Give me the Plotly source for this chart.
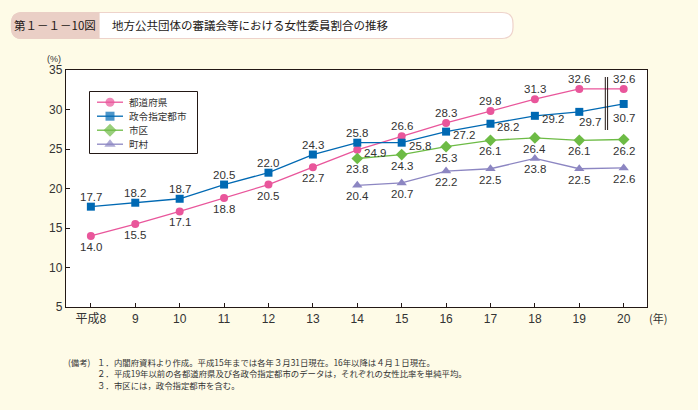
import plotly.graph_objects as go

# ---------------- data ----------------
years = [8, 9, 10, 11, 12, 13, 14, 15, 16, 17, 18, 19, 20]
year_labels = ["平成8", "9", "10", "11", "12", "13", "14", "15", "16", "17", "18", "19", "20"]
years_city = [14, 15, 16, 17, 18, 19, 20]

pref_vals = [14.0, 15.5, 17.1, 18.8, 20.5, 22.7, 24.9, 26.6, 28.3, 29.8, 31.3, 32.6, 32.6]
desig_vals = [17.7, 18.2, 18.7, 20.5, 22.0, 24.3, 25.8, 25.8, 27.2, 28.2, 29.2, 29.7, 30.7]
city_vals = [23.8, 24.3, 25.3, 26.1, 26.4, 26.1, 26.2]
town_vals = [20.4, 20.7, 22.2, 22.5, 23.8, 22.5, 22.6]

series_names = ["都道府県", "政令指定都市", "市区", "町村"]

# ---------------- styles ----------------
colors = ["#E9569B", "#0069B3", "#6DBB45", "#8C86C2"]
symbols = ["circle", "square", "diamond", "triangle-up"]
msizes = [8, 8, 9, 9]

# label placement codes (style, not data)
pref_pos = ["b"] * 6 + ["r"] + ["t"] * 6
desig_pos = ["t"] * 7 + ["r"] * 4 + ["r2", "b2"]
city_pos = ["b"] * 7
town_pos = ["b"] * 7
offsets = {"t": (0, 10), "b": (0, -11), "r": (18, -3), "r2": (11, -10), "b2": (0, -14)}

# plot-area pixel geometry
L, R, T, B = 66, 647, 70, 307
def px(x):
    return (x - L) / (R - L)
def py(y):
    return (B - y) / (B - T)

TXT = "#333333"
LABEL_FONT = dict(family="Liberation Sans, Arial, sans-serif", size=11.5, color=TXT)
JP = "Noto Sans CJK JP"

fig = go.Figure()

series = [
    (years, pref_vals, pref_pos),
    (years, desig_vals, desig_pos),
    (years_city, city_vals, city_pos),
    (years_city, town_vals, town_pos),
]

annotations = []
for i, (xs, ys, pos) in enumerate(series):
    fig.add_trace(go.Scatter(
        x=xs, y=ys, mode="lines+markers", name=series_names[i],
        line=dict(color=colors[i], width=1.3),
        marker=dict(symbol=symbols[i], size=msizes[i], color=colors[i], line=dict(width=0)),
        showlegend=False, cliponaxis=False,
    ))
    for x, y, p in zip(xs, ys, pos):
        dx, dy = offsets[p]
        annotations.append(dict(
            x=x, y=y, xref="x", yref="y", text=f"{y:.1f}", showarrow=False,
            xshift=dx, yshift=dy, font=LABEL_FONT,
        ))

# ---------------- custom legend (pixel overlay axes) ----------------
leg_rows = [102.2, 116.2, 130.2, 144.2]
shapes = []
shapes.append(dict(type="rect", xref="paper", yref="paper",
                   x0=px(89.5), x1=px(197.5), y0=py(153.5), y1=py(91.5),
                   line=dict(color="#231815", width=1), fillcolor="white", layer="below"))
for i, ry in enumerate(leg_rows):
    fig.add_trace(go.Scatter(
        x=[97, 110, 123], y=[ry, ry, ry], xaxis="x2", yaxis="y2",
        mode="lines+markers", line=dict(color=colors[i], width=1.3),
        marker=dict(symbol=symbols[i], size=[0, msizes[i] + 1, 0], color=colors[i], line=dict(width=0)),
        showlegend=False, hoverinfo="skip",
    ))
    annotations.append(dict(x=px(127), y=py(ry), xref="paper", yref="paper",
                            text=series_names[i], showarrow=False, xanchor="left",
                            yanchor="middle", font=dict(family=JP, size=9.6, color=TXT)))

# break mark (double vertical line) between 19 and 20
for bx in (605.3, 607.6):
    shapes.append(dict(type="line", xref="paper", yref="paper",
                       x0=px(bx), x1=px(bx), y0=py(77), y1=py(130),
                       line=dict(color="#231815", width=1)))

# ---------------- title box ----------------
def rounded_path(x0, x1, y0, y1, r, left=True, right=True):
    P = lambda x, y: f"{px(x):.5f},{py(y):.5f}"
    d = f"M{P(x0 + r, y0)} " if left else f"M{P(x0, y0)} "
    if right:
        d += f"L{P(x1 - r, y0)} Q{P(x1, y0)} {P(x1, y0 + r)} L{P(x1, y1 - r)} Q{P(x1, y1)} {P(x1 - r, y1)} "
    else:
        d += f"L{P(x1, y0)} L{P(x1, y1)} "
    if left:
        d += f"L{P(x0 + r, y1)} Q{P(x0, y1)} {P(x0, y1 - r)} L{P(x0, y0 + r)} Q{P(x0, y0)} {P(x0 + r, y0)} Z"
    else:
        d += f"L{P(x0, y1)} Z"
    return d

shapes.append(dict(type="path", xref="paper", yref="paper",
                   path=rounded_path(11.5, 513, 12.5, 38.5, 11),
                   fillcolor="white", line=dict(color="#EED3CB", width=1.2), layer="above"))
shapes.append(dict(type="path", xref="paper", yref="paper",
                   path=rounded_path(11.5, 99, 12.5, 38.5, 11, right=False),
                   fillcolor="#EACFC6", line=dict(color="#EACFC6", width=1.2), layer="above"))

annotations.append(dict(x=px(54.5), y=py(25.5), xref="paper", yref="paper",
                        text="第１－１－10図", showarrow=False, xanchor="center", yanchor="middle",
                        font=dict(family=JP, size=11.5, color="#231815")))
annotations.append(dict(x=px(110), y=py(25.5), xref="paper", yref="paper",
                        text="地方公共団体の審議会等における女性委員割合の推移", showarrow=False,
                        xanchor="left", yanchor="middle",
                        font=dict(family=JP, size=11.5, color="#231815")))

# axis unit labels
annotations.append(dict(x=px(54), y=py(58.5), xref="paper", yref="paper", text="(%)",
                        showarrow=False, xanchor="center", yanchor="middle",
                        font=dict(family="Liberation Sans", size=9, color=TXT)))
annotations.append(dict(x=px(657.5), y=py(317.5), xref="paper", yref="paper", text="(年)",
                        showarrow=False, xanchor="center", yanchor="middle",
                        font=dict(family=JP, size=11, color=TXT)))

# notes
note_font = dict(family=JP, size=8.4, color=TXT)
notes = [
    "内閣府資料より作成。平成15年までは各年３月31日現在。16年以降は４月１日現在。",
    "平成19年以前の各都道府県及び各政令指定都市のデータは，それぞれの女性比率を単純平均。",
    "市区には，政令指定都市を含む。",
]
note_nums = ["１．", "２．", "３．"]
note_rows = [361.7, 373.4, 385.1]
annotations.append(dict(x=px(66), y=py(note_rows[0]), xref="paper", yref="paper", text="(備考)",
                        showarrow=False, xanchor="left", yanchor="middle", font=note_font))
for n, t, ry in zip(note_nums, notes, note_rows):
    annotations.append(dict(x=px(94.5), y=py(ry), xref="paper", yref="paper", text=n,
                            showarrow=False, xanchor="left", yanchor="middle", font=note_font))
    annotations.append(dict(x=px(111.5), y=py(ry), xref="paper", yref="paper", text=t,
                            showarrow=False, xanchor="left", yanchor="middle", font=note_font))

fig.update_layout(
    width=698, height=410,
    margin=dict(l=L, r=698 - R, t=T, b=410 - B, pad=0),
    paper_bgcolor="#FEFBE7",
    plot_bgcolor="white",
    showlegend=False,
    xaxis=dict(
        range=[7.44, 20.525], tickmode="array", tickvals=years, ticktext=year_labels,
        ticks="inside", ticklen=4, tickcolor="#231815", tickwidth=1,
        showline=True, linecolor="#231815", linewidth=1.3, mirror=True,
        showgrid=False, zeroline=False,
        tickfont=dict(family="Liberation Sans, " + JP, size=12, color=TXT),
    ),
    yaxis=dict(
        range=[5, 35], dtick=5, tick0=5,
        ticks="inside", ticklen=4, tickcolor="#231815", tickwidth=1,
        showline=True, linecolor="#231815", linewidth=1.3, mirror=True,
        showgrid=False, zeroline=False,
        tickfont=dict(family="Liberation Sans", size=12, color=TXT),
    ),
    xaxis2=dict(range=[L, R], overlaying="x", anchor="y2", visible=False),
    yaxis2=dict(range=[B, T], overlaying="y", anchor="x2", visible=False),
    shapes=shapes,
    annotations=annotations,
)

fig.write_html("out.html", config={"displayModeBar": False},
               post_script="document.body.style.margin='0';document.body.style.background='#FEFBE7';")
